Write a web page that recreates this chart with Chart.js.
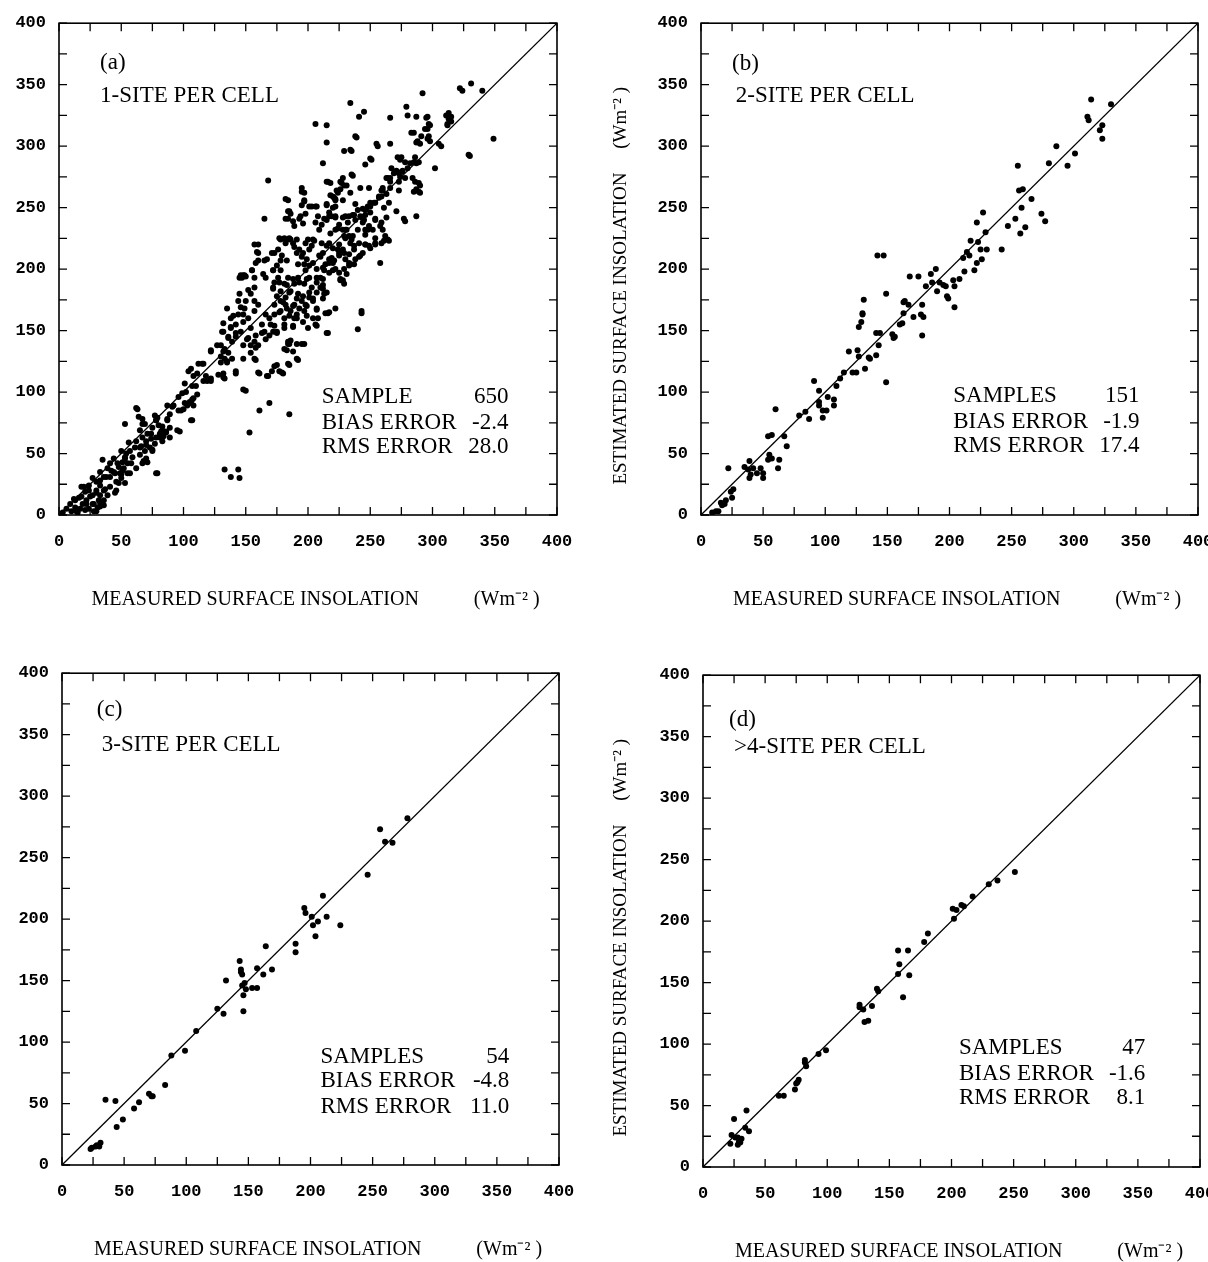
<!DOCTYPE html>
<html>
<head>
<meta charset="utf-8">
<script src="https://cdn.jsdelivr.net/npm/chart.js@4.4.0/dist/chart.umd.min.js"></script>
<style>
  html, body { margin: 0; padding: 0; background: #fff; width: 1208px; height: 1262px; overflow: hidden; }
  canvas { position: absolute; }
</style>
</head>
<body>
<canvas id="panelA" width="604" height="631" style="left:0;top:0"></canvas>
<canvas id="panelB" width="640" height="631" style="left:604px;top:0"></canvas>
<canvas id="panelC" width="604" height="631" style="left:0;top:650px"></canvas>
<canvas id="panelD" width="640" height="631" style="left:604px;top:652px"></canvas>
<script>
// axis ticks (labels every 50, marks every 25)
const axisMin = 0;
const axisMax = 400;
const labelStep = 50;
const tickMarks = [0, 25, 50, 75, 100, 125, 150, 175, 200, 225, 250, 275, 300, 325, 350, 375, 400];
const identityLine = [0, 400];

const xTitle = "MEASURED SURFACE INSOLATION           (Wm\u207B\u00B2 )";
const yTitle = "ESTIMATED SURFACE INSOLATION     (Wm\u207B\u00B2 )";

const panelTags = ["(a)", "(b)", "(c)", "(d)"];
const panelSites = ["1-SITE PER CELL", "2-SITE PER CELL", "3-SITE PER CELL", ">4-SITE PER CELL"];
const statLabelsA = ["SAMPLE", "BIAS ERROR", "RMS ERROR"];
const statLabels = ["SAMPLES", "BIAS ERROR", "RMS ERROR"];
const statsA = ["650", "-2.4", "28.0"];
const statsB = ["151", "-1.9", "17.4"];
const statsC = ["54", "-4.8", "11.0"];
const statsD = ["47", "-1.6", "8.1"];

// (measured, estimated) pairs
const pointsA = [
[322,347],[324,345],[331,351],[340,345],[292,343],[349,306],[329,293],[330,292],[302,282],[305,302],[307,300],[311,325],[313,327],[315,324],[312,318],[279,332],[287,324],[296,324],[298,317],[296,314],[291,308],[296,306],[288,304],[298,304],[283,311],[266,323],[266,302],[255,302],[250,290],[246,285],[272,291],[274,289],[275,291],[278,287],[280,282],[267,282],[270,279],[273,278],[276,280],[263,274],[266,271],[284,274],[286,271],[290,268],[289,263],[287,243],[277,241],[271,247],[259,264],[263,261],[260,266],[249,266],[250,254],[244,249],[257,259],[254,254],[254,241],[259,238],[263,242],[260,232],[264,224],[259,221],[262,227],[258,205],[254,221],[250,217],[246,220],[243,242],[246,244],[244,238],[248,232],[238,253],[234,335],[241,324],[245,328],[238,308],[229,296],[234,297],[235,277],[226,271],[228,274],[231,268],[223,264],[218,270],[206,318],[215,317],[215,303],[212,286],[215,271],[168,272],[165,241],[215,253],[220,250],[222,257],[218,260],[182,257],[184,247],[186,245],[182,241],[195,266],[195,263],[197,256],[195,252],[203,251],[206,251],[194,243],[198,245],[189,235],[178,224],[184,224],[182,221],[186,224],[206,238],[209,232],[213,241],[219,243],[222,242],[225,236],[230,243],[232,238],[237,244],[231,232],[229,227],[235,224],[240,232],[234,221],[237,216],[241,210],[225,220],[220,217],[229,213],[225,211],[226,191],[231,196],[234,204],[214,204],[213,199],[219,209],[213,180],[212,184],[214,164],[215,148],[206,155],[207,167],[204,160],[243,166],[240,151],
[157,220],[159,214],[165,207],[160,207],[157,193],[146,195],[149,195],[155,199],[164,196],[166,193],[172,199],[175,203],[178,199],[176,193],[173,213],[178,207],[189,218],[191,213],[192,204],[195,210],[197,204],[201,216],[198,221],[204,224],[198,199],[201,193],[197,188],[203,185],[207,193],[192,193],[189,188],[186,182],[192,180],[195,174],[184,193],[181,188],[178,182],[182,177],[173,189],[172,185],[178,174],[173,171],[189,171],[186,166],[191,163],[197,166],[198,171],[201,177],[204,174],[207,181],[210,185],[210,193],[212,201],[210,210],[178,166],[181,160],[182,171],[173,163],[166,163],[163,155],[169,160],[170,155],[172,149],[175,149],[181,155],[188,153],[186,142],[184,139],[181,135],[195,139],[191,127],[184,123],[173,121],[171,117],[179,116],[185,82],[169,91],[161,85],[160,116],[167,113],[148,102],[153,67],[157,127],[154,132],[133,37],[138,31],[144,37],[145,30],[118,113],[132,112],[133,127],[135,124],[130,124],[139,127],[130,138],[133,135],[136,132],[132,149],[136,145],[139,141],[142,145],[138,153],[142,155],[146,149],[148,157],[135,168],[138,160],[144,163],[148,163],[149,168],[145,193],[148,195],[145,180],[144,174],[154,180],[157,185],[157,174],[160,171],[157,166],[152,160],[154,152],[158,146],[157,141],[151,143],[148,138],[154,138],[160,138],[163,148],[166,143],
[112,123],[108,113],[104,117],[101,107],[96,96],[99,99],[102,100],[107,105],[105,92],[107,94],[101,91],[108,89],[92,89],[96,85],[87,89],[89,82],[106,77],[95,69],[77,81],[78,77],[80,73],[83,69],[84,64],[87,77],[89,71],[86,67],[81,63],[78,34],[62,87],[64,80],[67,74],[65,69],[53,74],[71,66],[74,62],[70,57],[75,53],[56,59],[61,55],[65,49],[68,44],[50,52],[53,46],[58,42],[62,38],[44,46],[47,42],[52,38],[55,34],[50,33],[41,42],[39,38],[44,35],[41,31],[46,27],[35,45],[33,35],[36,31],[30,27],[33,24],[37,21],[27,30],[24,24],[30,20],[27,16],[33,16],[18,23],[21,19],[16,14],[22,12],[19,9],[12,13],[9,9],[13,6],[10,3],[15,2],[6,5],[3,2],[24,5],[28,3],[31,6],[36,8],[27,9],[33,10],[36,12],[39,16],
[63,86],[67,78],[69,74],[79,79],[79,34],[91,88],[106,119],[115,123],[97,68],[107,77],[122,134],[128,114],[133,111],[142,115],[150,101],[119,109],[122,109],[110,105],[111,98],[108,95],[106,91],[103,89],[100,86],[98,85],[87,78],[83,72],[86,68],[82,68],[89,63],[83,60],[78,63],[75,52],[81,66],[62,60],[66,56],[69,52],[65,55],[70,46],[67,42],[71,43],[59,47],[55,42],[51,36],[57,34],[50,30],[48,26],[53,26],[46,20],[45,18],[41,23],[38,31],[33,28],[36,20],[30,18],[32,12],[25,15],[28,9],[22,9],[21,4],[17,5],[14,3],[20,23],[24,20],[18,15],[13,12],[33,7],[30,3],[48,39],[51,43],[54,50],[57,52],[53,47],[49,34],[45,34],[42,36],[70,60],[74,66],[75,71],[78,77],[73,55],[77,58],[67,63],
[236,276],[242,266],[229,268],[226,265],[224,262],[220,259],[216,271],[221,258],[264,274],[260,264],[257,258],[253,254],[250,251],[246,248],[242,243],[238,240],[236,244],[197,262],[197,255],[184,256],[185,247],[184,241],[188,239],[193,241],[196,237],[201,251],[207,251],[215,252],[208,243],[215,240],[211,236],[217,246],[222,251],[177,225],[181,225],[185,225],[188,221],[191,224],[160,220],[160,213],[171,213],[176,216],[179,211],[183,207],[167,208],[172,199],[158,205],[155,199],[147,193],[150,194],[152,183],[150,174],[146,169],[140,162],[132,156],[138,152],[142,148],[131,149],[136,144],[127,138],[132,133],[130,129],[135,125],[122,133],[116,123],[111,115],[122,111],[116,109],[132,115],[142,117],[148,127],[161,115],[168,113],[175,122],[177,117],[180,115],[185,122],[192,126],[184,141],[185,139],[191,139],[197,139],[183,134],[188,133],[158,126],[158,136],[152,144],[165,149],[169,146],[175,148],[173,154],[181,152],[188,154],[189,160],[199,162],[200,152],[207,154],[208,160],[216,148],[216,164],[222,168],[243,164],
[193,216],[196,213],[199,208],[201,203],[204,205],[207,200],[209,211],[203,219],[200,224],[205,223],[211,221],[215,219],[212,213],[217,208],[220,205],[225,213],[228,216],[230,208],[233,203],[222,200],[217,197],[212,192],[207,189],[199,192],[193,189],[188,192],[183,187],[177,189],[185,181],[191,176],[196,178],[201,181],[204,176],[199,170],[193,168],[188,170],[183,168],[180,173],[175,178],[172,184],[177,165],[185,162],[191,160],[196,157],[212,187],[215,181],[207,168],[212,176],[217,165],[226,192],[229,188],[230,225],[236,227],[241,221],[246,228],[252,232],[254,225],[249,219],[244,213],[238,208],[237,219],[230,232],[224,233],[218,229],
[239,307],[235,296],[256,300],[251,289],[227,270],[234,262],[280,325],[295,323],[297,318],[294,314],[285,311],[287,303],[290,302],[297,308],[313,322],[312,317],[315,320],[286,291],[287,286],[285,287],[289,287],[282,286],[271,280],[269,278],[266,274],[275,279],[274,275],[273,271],[273,264],[278,274],[289,270],[287,265],[290,262],[285,263],[266,266],[259,259],[248,251],[250,246],[245,240],[240,248],[261,250],[265,254],[278,239],[265,223],[261,223],[258,235],[254,240],[254,220],[249,235],[246,232],[246,220],[242,211],[237,204],[233,212],[233,205],[229,200],[225,197],[228,191],[228,232],[233,227],[224,216],[221,207],[217,205],[220,199],[217,221],[222,232],[217,243],[222,243],[228,242],[233,243],[222,256],[228,256]
];

const pointsB = [
[9,2],[12,3],[14,3],[16,10],[19,9],[20,12],[17,8],[22,38],[25,14],[24,19],[26,21],[35,39],[39,44],[38,37],[39,30],[40,33],[42,38],[45,34],[48,38],[50,30],[50,34],[54,45],[57,46],[55,49],[62,38],[63,45],[60,86],[67,64],[69,56],[54,64],[57,65],[79,81],[84,84],[87,78],[91,109],[95,101],[95,92],[95,89],[98,79],[98,85],[102,96],[101,85],[107,94],[107,89],[109,105],[112,111],[115,116],[122,116],[125,116],[126,134],[127,129],[127,153],[129,157],[131,175],[130,164],[130,163],[132,119],[135,128],[136,127],[141,130],[141,148],[143,138],[144,148],[149,108],[149,180],[147,211],[142,211],[119,133],[154,147],[155,144],[156,145],[160,155],[162,156],[163,164],[163,173],[164,174],[167,171],[168,194],[171,161],[175,194],[177,163],[178,171],[178,146],[179,161],[181,186],[185,196],[186,189],[189,200],[190,182],[192,189],[195,187],[197,186],[198,178],[199,176],[203,191],[204,169],[204,186],[208,192],[211,209],[212,198],[214,214],[216,211],[217,223],[220,199],[222,205],[222,238],[223,222],[225,216],[226,208],[227,246],[229,230],[230,216],[242,216],[247,235],[253,241],[255,284],[256,264],[259,265],[258,250],[257,229],[261,234],[266,257],[274,245],[277,239],[280,286],[286,300],[295,284],[301,294],[311,324],[312,321],[314,338],[321,313],[323,306],[323,317],[330,334]
];

const pointsC = [
[23,13],[24,14],[27,15],[28,16],[30,15],[31,18],[35,53],[43,52],[44,31],[49,37],[58,46],[62,51],[70,58],[72,56],[73,56],[83,65],[88,89],[99,93],[108,109],[125,127],[130,123],[132,150],[143,166],[144,159],[144,157],[145,155],[146,138],[146,125],[147,148],[145,146],[148,143],[153,144],[157,144],[157,160],[162,155],[164,178],[169,159],[188,180],[188,173],[195,209],[196,205],[201,202],[202,195],[204,186],[206,198],[210,219],[213,202],[224,195],[246,236],[256,273],[260,263],[266,262],[278,282]
];

const pointsD = [
[22,19],[23,26],[25,39],[26,24],[28,18],[28,24],[29,21],[30,20],[31,23],[34,32],[35,46],[37,29],[61,58],[65,58],[74,63],[75,68],[76,69],[77,71],[82,87],[82,85],[83,82],[93,92],[99,95],[126,132],[126,130],[129,128],[130,118],[133,119],[136,131],[140,145],[141,143],[157,176],[158,165],[157,157],[161,138],[165,176],[166,156],[178,183],[181,190],[201,210],[204,209],[202,202],[208,213],[210,212],[217,220],[230,230],[237,233],[251,240]
];

const serif = '"Liberation Serif", "Times New Roman", serif';
const mono = '"Liberation Mono", "Courier New", monospace';

// box, inward ticks on all sides, and the panel notes
const framePlugin = {
  id: "frame",
  afterDatasetsDraw(chart, args, opts) {
    const { ctx, chartArea, scales } = chart;
    const { left, right, top, bottom } = chartArea;
    const x = scales.x, y = scales.y;
    ctx.save();
    ctx.strokeStyle = "#000";
    ctx.lineWidth = 1.6;
    ctx.strokeRect(left, top, right - left, bottom - top);
    ctx.lineWidth = 1.3;
    ctx.beginPath();
    tickMarks.forEach(v => {
      const px = x.getPixelForValue(v);
      const py = y.getPixelForValue(v);
      ctx.moveTo(px, bottom); ctx.lineTo(px, bottom - 8);
      ctx.moveTo(px, top); ctx.lineTo(px, top + 8);
      ctx.moveTo(left, py); ctx.lineTo(left + 8, py);
      ctx.moveTo(right, py); ctx.lineTo(right - 8, py);
    });
    ctx.stroke();

    ctx.fillStyle = "#000";
    ctx.font = "23px " + serif;
    ctx.textBaseline = "middle";
    ctx.textAlign = "left";
    ctx.fillText(opts.tag, x.getPixelForValue(opts.tagAt[0]), y.getPixelForValue(opts.tagAt[1]));
    ctx.fillText(opts.site, x.getPixelForValue(opts.siteAt[0]), y.getPixelForValue(opts.siteAt[1]));
    opts.labels.forEach((lab, i) => {
      const py = y.getPixelForValue(opts.rowsY[i]);
      ctx.textAlign = "left";
      ctx.fillText(lab, x.getPixelForValue(opts.statX[0]), py);
      ctx.textAlign = "right";
      ctx.fillText(opts.values[i], x.getPixelForValue(opts.statX[1]), py);
    });
    ctx.restore();
  }
};

function makePanel(id, points, notes, layout) {
  return new Chart(document.getElementById(id), {
    data: {
      datasets: [
        {
          type: "scatter",
          data: points.map(([mx, ey]) => ({ x: mx, y: ey })),
          backgroundColor: "#000",
          borderColor: "#000",
          borderWidth: 0,
          pointRadius: 3
        },
        {
          type: "line",
          data: identityLine.map(v => ({ x: v, y: v })),
          borderColor: "#000",
          borderWidth: 1.3,
          pointRadius: 0,
          fill: false
        }
      ]
    },
    options: {
      responsive: false,
      animation: false,
      events: [],
      layout: { padding: { left: 0, top: 18, right: layout.padRight, bottom: 0 } },
      plugins: {
        legend: { display: false },
        tooltip: { enabled: false },
        frame: notes
      },
      scales: {
        x: {
          type: "linear",
          min: axisMin,
          max: axisMax,
          grid: { display: false, drawTicks: false },
          border: { display: false },
          ticks: {
            stepSize: labelStep,
            maxRotation: 0,
            autoSkip: false,
            padding: 17,
            color: "#000",
            font: { family: mono, size: 17, weight: "bold" }
          },
          title: {
            display: true,
            text: "   " + xTitle,
            color: "#000",
            font: { family: serif, size: 20 },
            padding: { top: 0, bottom: 19 }
          },
          afterFit: s => { s.height = 116; }
        },
        y: {
          type: "linear",
          min: axisMin,
          max: axisMax,
          grid: { display: false, drawTicks: false },
          border: { display: false },
          ticks: {
            stepSize: labelStep,
            autoSkip: false,
            padding: 13,
            color: "#000",
            font: { family: mono, size: 17, weight: "bold" }
          },
          title: {
            display: layout.yTitle,
            text: yTitle + "       ",
            color: "#000",
            font: { family: serif, size: 19 },
            padding: { top: 6, bottom: 0 }
          },
          afterFit: s => { s.width = layout.yWidth; }
        }
      }
    },
    plugins: [framePlugin]
  });
}

makePanel("panelA", pointsA,
  { tag: panelTags[0], site: panelSites[0], tagAt: [33, 368], siteAt: [33, 341], labels: statLabelsA, values: statsA, statX: [211, 361], rowsY: [96, 75, 55] },
  { padRight: 47, yWidth: 59, yTitle: false });

makePanel("panelB", pointsB,
  { tag: panelTags[1], site: panelSites[1], tagAt: [25, 367], siteAt: [28, 341], labels: statLabels, values: statsB, statX: [203, 353], rowsY: [97, 76, 56] },
  { padRight: 46, yWidth: 97, yTitle: true });

makePanel("panelC", pointsC,
  { tag: panelTags[2], site: panelSites[2], tagAt: [28, 370], siteAt: [32, 342], labels: statLabels, values: statsC, statX: [208, 360], rowsY: [88, 68, 47] },
  { padRight: 45, yWidth: 62, yTitle: false });

makePanel("panelD", pointsD,
  { tag: panelTags[3], site: panelSites[3], tagAt: [21, 364], siteAt: [25, 342], labels: statLabels, values: statsD, statX: [206, 356], rowsY: [97, 76, 56] },
  { padRight: 44, yWidth: 99, yTitle: true });
</script>
</body>
</html>
